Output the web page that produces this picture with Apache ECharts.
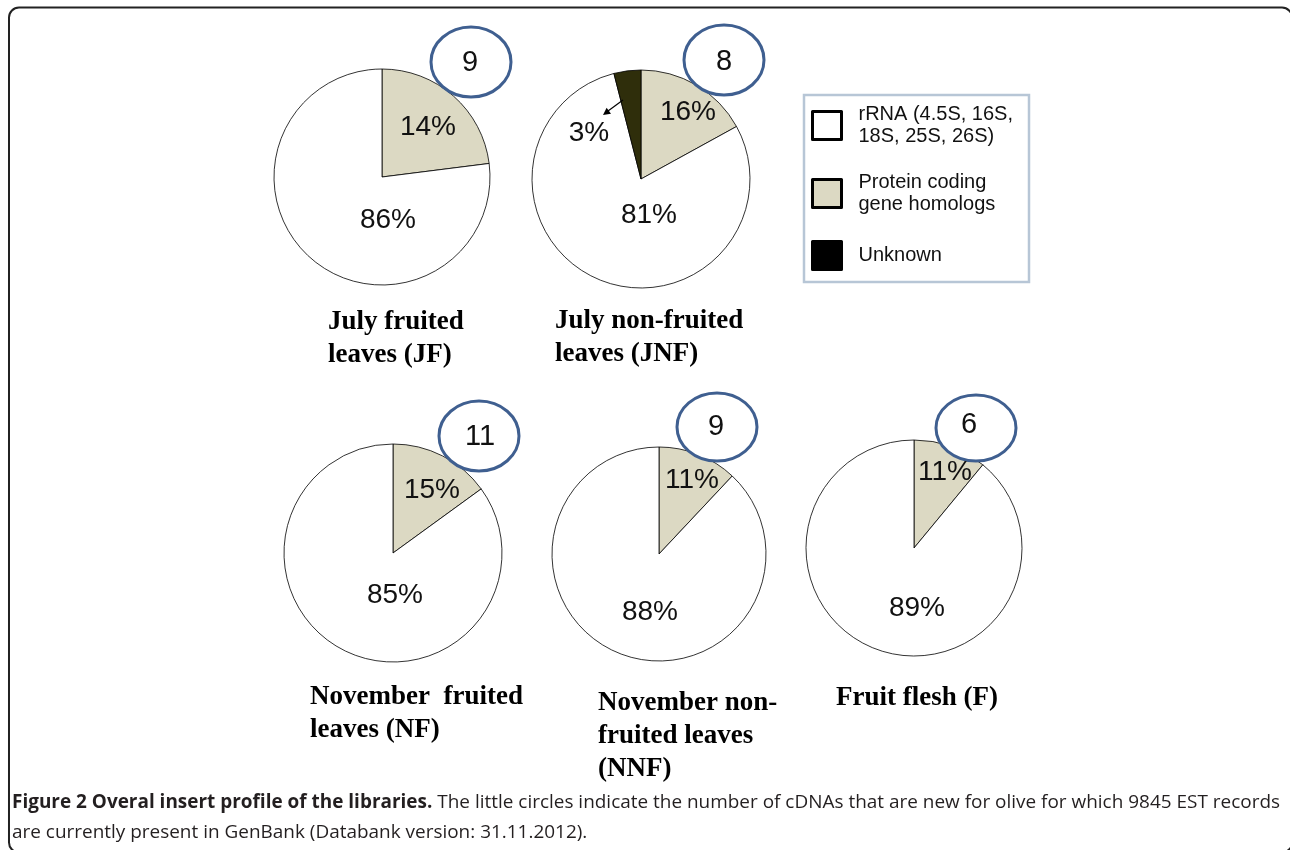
<!DOCTYPE html>
<html>
<head>
<meta charset="utf-8">
<title>Figure 2</title>
<script src="https://cdn.jsdelivr.net/npm/echarts@6/dist/echarts.min.js"></script>
<style>
  html, body { margin: 0; padding: 0; background: #fff; }
  #chart { width: 1290px; height: 850px; }
</style>
</head>
<body>
<div id="chart"></div>
<script>
// categories, in the order the wedges run clockwise from 12 o'clock
var categories = ['Protein coding gene homologs', 'rRNA (4.5S, 16S, 18S, 25S, 26S)', 'Unknown'];
var libraries = ['July fruited\nleaves (JF)', 'July non-fruited\nleaves (JNF)',
  'November  fruited\nleaves (NF)', 'November non-\nfruited leaves\n(NNF)', 'Fruit flesh (F)'];

// wedge sizes as drawn in the figure (protein, rRNA, unknown)
var shareJF = [23, 77];
var shareJNF = [17, 79, 4];
var shareNF = [15, 85];
var shareNNF = [12, 88];
var shareF = [11, 89];

// percentages printed on the wedges
var pctJF = ['14%', '86%'];
var pctJNF = ['16%', '81%', '3%'];
var pctNF = ['15%', '85%'];
var pctNNF = ['11%', '88%'];
var pctF = ['11%', '89%'];

// new cDNAs for olive (the little circles)
var newCdnas = [9, 8, 11, 9, 6];

var shares = [shareJF, shareJNF, shareNF, shareNNF, shareF];
var pcts = [pctJF, pctJNF, pctNF, pctNNF, pctF];

// ---- layout ----
var pieCenters = [[382, 177], [641, 179], [393, 553], [659, 554], [914, 548]];
var pieRadius = [108, 109, 109, 107, 108];
var pctPos = [
  [[428, 127], [388, 220]],
  [[688, 112], [649, 215], [589, 133]],
  [[432, 490], [395, 595]],
  [[692, 480], [650, 612]],
  [[945, 472], [917, 608]]
];
var ovals = [[471, 62, 40, 35], [724, 60, 40, 35], [479, 436, 40, 35], [717, 427, 40, 34], [976, 428, 40, 33]];
var ovalText = [[470, 63], [724, 62], [480, 437], [716, 427], [969, 425]];
var titlePos = [[328, 306], [555, 305], [310, 681], [598, 687], [836, 682]];
var legendTop = [104, 172, 240];

var colors = {};
colors[categories[0]] = '#dcd9c3';
colors[categories[1]] = '#ffffff';
colors[categories[2]] = '#2f2e0b';
var legendText = {};
legendText[categories[1]] = 'rRNA (4.5S, 16S,\n18S, 25S, 26S)';
legendText[categories[0]] = 'Protein coding\ngene homologs';
legendText[categories[2]] = 'Unknown';
var legendOrder = [categories[1], categories[0], categories[2]];
var legendIcon = ['#ffffff', '#dcd9c3', '#000000'];

var chart = echarts.init(document.getElementById('chart'), null, { renderer: 'canvas' });

var series = shares.map(function (vals, k) {
  return {
    type: 'pie',
    center: pieCenters[k],
    radius: pieRadius[k],
    startAngle: 90,
    clockwise: true,
    silent: true,
    animation: false,
    label: { show: false },
    labelLine: { show: false },
    emphasis: { disabled: true },
    itemStyle: { borderColor: '#000', borderWidth: 0.8 },
    data: vals.map(function (v, i) {
      return { name: categories[i], value: v, itemStyle: { color: colors[categories[i]] } };
    })
  };
});

var legends = legendOrder.map(function (name, i) {
  return {
    left: 811, top: legendTop[i], orient: 'vertical', padding: 0,
    selectedMode: false, z: 6,
    itemWidth: 29, itemHeight: 28,
    data: [{ name: name, icon: 'rect', itemStyle: { color: legendIcon[i], borderColor: '#000', borderWidth: 3 } }],
    formatter: function (n) { return legendText[n]; },
    textStyle: { fontFamily: 'Liberation Sans', fontSize: 20, color: '#111', lineHeight: 21.5, padding: [0, 0, 0, 12] }
  };
});

var g = [];
// outer frame
g.push({ type: 'rect', z: 0, shape: { x: 9, y: 7.5, width: 1283, height: 845, r: 10 },
  style: { fill: 'none', stroke: '#222', lineWidth: 2 } });
// legend box
g.push({ type: 'rect', z: 1, shape: { x: 804, y: 95, width: 225, height: 187 },
  style: { fill: '#fff', stroke: '#b7c6d6', lineWidth: 2.5 } });

pcts.forEach(function (list, k) {
  g.push({ type: 'ellipse', z: 10,
    shape: { cx: ovals[k][0], cy: ovals[k][1], rx: ovals[k][2], ry: ovals[k][3] },
    style: { fill: '#fff', stroke: '#3f5f90', lineWidth: 3 } });
  g.push({ type: 'text', z: 11, x: ovalText[k][0], y: ovalText[k][1],
    style: { text: String(newCdnas[k]), fontFamily: 'Liberation Sans', fontSize: 29, fill: '#111',
      align: 'center', verticalAlign: 'middle' } });
  list.forEach(function (t, i) {
    g.push({ type: 'text', z: 12, x: pctPos[k][i][0], y: pctPos[k][i][1],
      style: { text: t, fontFamily: 'Liberation Sans', fontSize: 28, fill: '#111',
        align: 'center', verticalAlign: 'middle' } });
  });
  g.push({ type: 'text', z: 11, x: titlePos[k][0], y: titlePos[k][1],
    style: { text: libraries[k], fontFamily: 'Liberation Serif', fontWeight: 'bold', fontSize: 27,
      lineHeight: 33, fill: '#000', align: 'left', verticalAlign: 'top' } });
});

// arrow from the unknown wedge to its label
g.push({ type: 'line', z: 12, shape: { x1: 623, y1: 100, x2: 608, y2: 111 },
  style: { stroke: '#000', lineWidth: 1.2 } });
g.push({ type: 'polygon', z: 12, shape: { points: [[603, 115], [611, 113.8], [606.6, 107.8]] },
  style: { fill: '#000' } });

// caption, squeezed to the printed width
var capBold = 'Figure 2 Overal insert profile of the libraries.';
var capRest = ' The little circles indicate the number of cDNAs that are new for olive for which 9845 EST records';
var capLine2 = 'are currently present in GenBank (Databank version: 31.11.2012).';
var capSize = 19;
var ctx = document.createElement('canvas').getContext('2d');
ctx.font = 'bold ' + capSize + 'px "Open Sans"';
var wB = ctx.measureText(capBold).width;
ctx.font = capSize + 'px "Open Sans"';
var wR = ctx.measureText(capRest).width;
var sx = 1268 / (wB + wR);
g.push({ type: 'text', z: 11, x: 12, y: 803, scaleX: sx,
  style: { text: '{b|' + capBold + '}' + capRest, fontFamily: 'Open Sans', fontSize: capSize, fill: '#231f20',
    verticalAlign: 'middle', rich: { b: { fontWeight: 'bold', fontFamily: 'Open Sans', fontSize: capSize, fill: '#231f20' } } } });
g.push({ type: 'text', z: 11, x: 12, y: 833, scaleX: sx,
  style: { text: capLine2, fontFamily: 'Open Sans', fontSize: capSize, fill: '#231f20', verticalAlign: 'middle' } });

chart.setOption({
  backgroundColor: '#fff',
  animation: false,
  legend: legends,
  series: series,
  graphic: { elements: g }
});
</script>
</body>
</html>
